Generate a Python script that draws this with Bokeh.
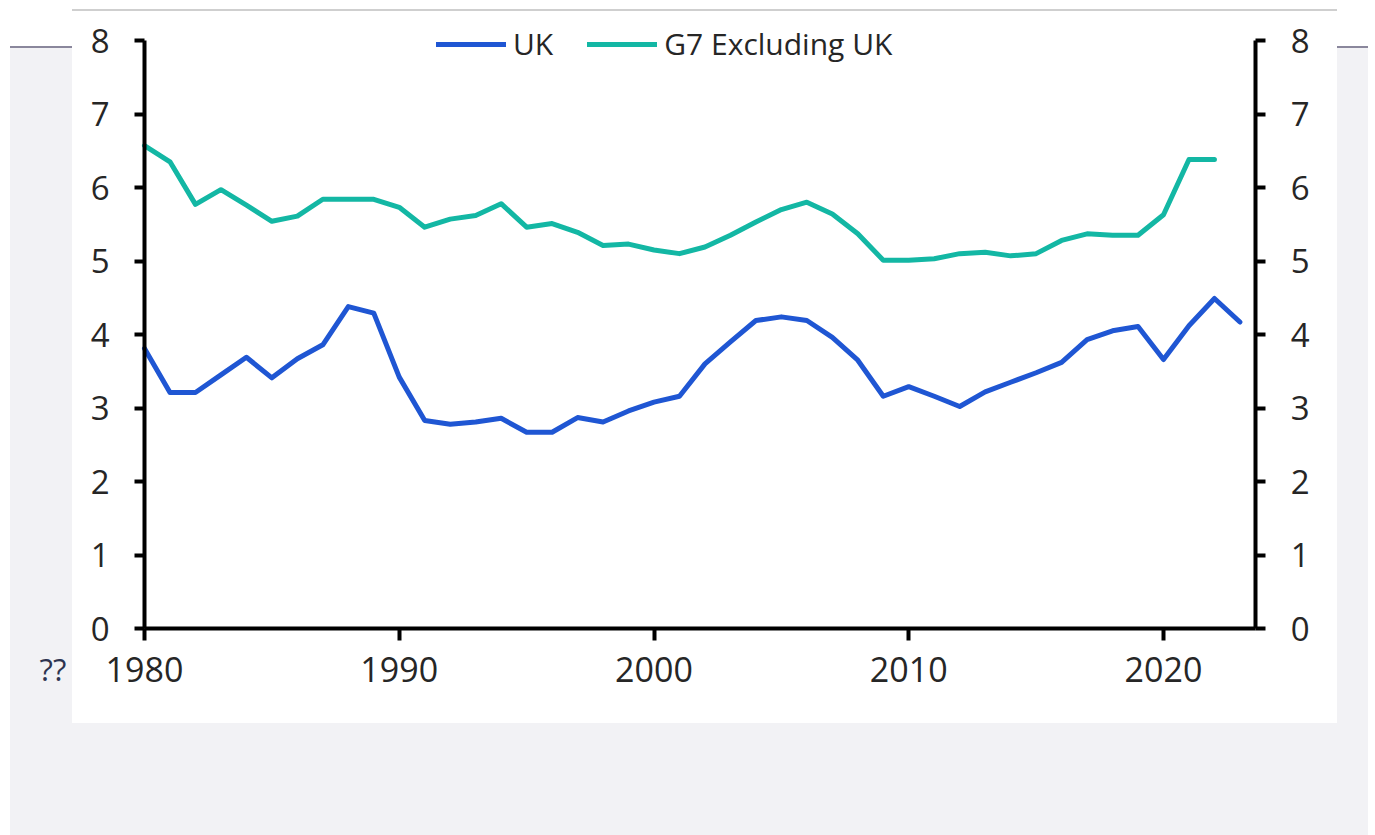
from bokeh.plotting import figure
from bokeh.models import Range1d, LinearAxis, Legend, LegendItem, Label, FixedTicker
from bokeh.embed import file_html
from bokeh.resources import INLINE

years = list(range(1980, 2024))
uk = [3.81, 3.21, 3.21, 3.45, 3.69, 3.41, 3.67, 3.86, 4.38, 4.29,
      3.42, 2.83, 2.78, 2.81, 2.86, 2.67, 2.67, 2.87, 2.81, 2.96,
      3.08, 3.16, 3.60, 3.90, 4.19, 4.24, 4.19, 3.96, 3.65, 3.16,
      3.29, 3.16, 3.02, 3.22, 3.35, 3.48, 3.62, 3.93, 4.05, 4.11,
      3.66, 4.12, 4.49, 4.17]
g7_years = list(range(1980, 2023))
g7 = [6.57, 6.35, 5.77, 5.97, 5.76, 5.54, 5.61, 5.84, 5.84, 5.84,
      5.73, 5.46, 5.57, 5.62, 5.78, 5.46, 5.51, 5.39, 5.21, 5.23,
      5.15, 5.10, 5.19, 5.35, 5.53, 5.70, 5.80, 5.64, 5.37, 5.01,
      5.01, 5.03, 5.10, 5.12, 5.07, 5.10, 5.28, 5.37, 5.35, 5.35,
      5.63, 6.38, 6.38]
x_ticks = [1980, 1990, 2000, 2010, 2020]
y_ticks = [0, 1, 2, 3, 4, 5, 6, 7, 8]
series_names = ["UK", "G7 Excluding UK"]

X0, X1 = 1980, 2023.62
Y0, Y1 = 0, 8

FONT = "Open Sans"
TXT = "#262626"
UK_COL = "#1f56d3"
G7_COL = "#13b7a4"

W, H = 1375, 835
# pixel mapping: 1980 -> 144px, 25.475 px / year; 0 -> 628px, 73.5 px / unit
px_year = 25.475
px_unit = 73.5
xr = Range1d(X0 - 144 / px_year, X0 + (W - 144) / px_year)
yr = Range1d(Y0 - (H - 628) / px_unit, Y0 + 628 / px_unit)

p = figure(width=W, height=H, output_backend="svg", toolbar_location=None,
           x_range=xr, y_range=yr, min_border=0,
           x_axis_location="below", y_axis_location="left")
p.border_fill_color = None
p.background_fill_color = None
p.outline_line_color = None
p.grid.visible = False
p.styles = {"background": (
    "linear-gradient(#cfcfcf,#cfcfcf) 72px 9px / 1265px 2px no-repeat, "
    "linear-gradient(#ffffff,#ffffff) 72px 11px / 1265px 712px no-repeat, "
    "linear-gradient(#8a879c,#8a879c) 10px 46px / 1358px 2px no-repeat, "
    "linear-gradient(#f2f2f5,#f2f2f5) 10px 48px / 1358px 787px no-repeat, #ffffff")}

r_uk = p.line(years, uk, line_color=UK_COL, line_width=5,
              line_join="round", line_cap="round")
r_g7 = p.line(g7_years, g7, line_color=G7_COL, line_width=5,
              line_join="round", line_cap="round")

right_axis = LinearAxis()
p.add_layout(right_axis, "right")

left_axis = p.yaxis[0]
left_axis.fixed_location = X0
right_axis.fixed_location = X1

for ax in [left_axis, right_axis]:
    ax.ticker = FixedTicker(ticks=y_ticks)
    ax.bounds = (Y0, Y1)
    ax.axis_line_width = 4
    ax.major_tick_line_width = 4
    ax.major_tick_out = 10
    ax.major_tick_in = 0
    ax.minor_tick_out = 0
    ax.minor_tick_in = 0
    ax.major_label_standoff = 25
    ax.major_label_text_font = FONT
    ax.major_label_text_font_size = "33px"
    ax.major_label_text_color = TXT
    ax.axis_line_color = "black"
    ax.major_tick_line_color = "black"

xa = p.xaxis[0]
xa.fixed_location = Y0
xa.bounds = (X0, X1)
xa.ticker = FixedTicker(ticks=x_ticks)
xa.axis_line_width = 4
xa.major_tick_line_width = 4
xa.major_tick_out = 12
xa.major_tick_in = 0
xa.minor_tick_out = 0
xa.minor_tick_in = 0
xa.major_label_standoff = 16
xa.major_label_text_font = FONT
xa.major_label_text_font_size = "34px"
xa.major_label_text_color = TXT
xa.axis_line_color = "black"

legend = Legend(items=[LegendItem(label=series_names[0], renderers=[r_uk]),
                       LegendItem(label=series_names[1], renderers=[r_g7])],
                orientation="horizontal", location=(436, H - 64),
                glyph_width=70, glyph_height=30, label_standoff=7, spacing=34,
                padding=0, margin=0, border_line_color=None,
                background_fill_color=None, background_fill_alpha=0,
                label_text_font=FONT, label_text_font_size="30px",
                label_text_color=TXT)
p.add_layout(legend, "center")

p.add_layout(Label(x=39, y=H - 668, x_units="screen", y_units="screen", text="??",
                   text_font=FONT, text_font_size="31px", text_color="#2e3450",
                   text_baseline="middle"))

open("out.html", "w").write(file_html(p, INLINE))
